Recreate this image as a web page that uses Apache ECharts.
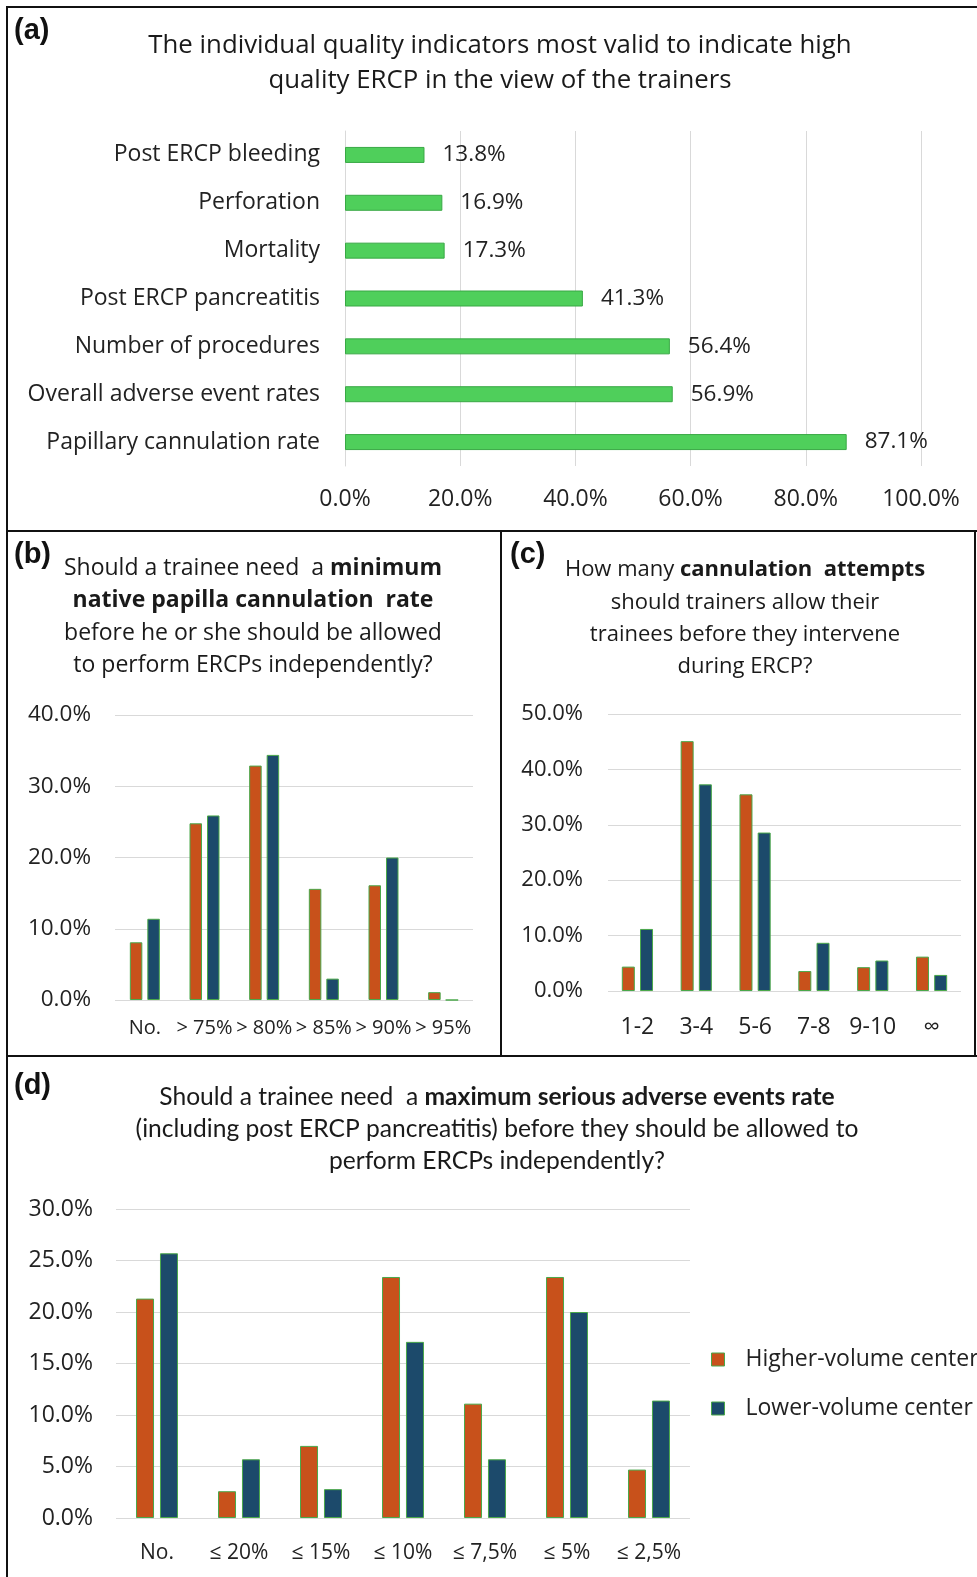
<!DOCTYPE html>
<html>
<head>
<meta charset="utf-8">
<script src="https://cdn.jsdelivr.net/npm/echarts@6/dist/echarts.min.js"></script>
<style>
    html, body { margin: 0; padding: 0; background: #fff; }
    #main { width: 977px; height: 1577px; }
</style>
</head>
<body>
<div id="main"></div>
<script>
// (a) quality indicators
var indicatorNames = ['Post ERCP bleeding', 'Perforation', 'Mortality', 'Post ERCP pancreatitis',
    'Number of procedures', 'Overall adverse event rates', 'Papillary cannulation rate'];
var indicatorValues = [13.8, 16.9, 17.3, 41.3, 56.4, 56.9, 87.1];

// (b) minimum native papilla cannulation rate
var rateCats = ['No.', '> 75%', '> 80%', '> 85%', '> 90%', '> 95%'];
var rateHigher = [8.1, 24.8, 32.9, 15.6, 16.1, 1.1];
var rateLower = [11.4, 25.9, 34.4, 3.0, 20.0, 0];

// (c) cannulation attempts
var attemptCats = ['1-2', '3-4', '5-6', '7-8', '9-10', '\u221e'];
var attemptHigher = [4.4, 45.1, 35.5, 3.6, 4.3, 6.2];
var attemptLower = [11.2, 37.3, 28.6, 8.7, 5.5, 2.9];

// (d) maximum serious adverse events rate
var adverseCats = ['No.', '\u2264 20%', '\u2264 15%', '\u2264 10%', '\u2264 7,5%', '\u2264 5%', '\u2264 2,5%'];
var adverseHigher = [21.3, 2.6, 7.0, 23.4, 11.1, 23.4, 4.7];
var adverseLower = [25.7, 5.7, 2.8, 17.1, 5.7, 20.0, 11.4];

var seriesNames = ['Higher-volume center', 'Lower-volume center'];

var FONT = '"Open Sans", sans-serif';
var TITLE_FONT = 'Lato, sans-serif';
var orange = '#c8511b';
var blue = '#1c4a6b';
var barBorder = '#4aa84a';
var gridColor = '#d9d9d9';

function pct(v) {
    return v.toFixed(1) + '%';
}

function valueAxis(gridIndex, max, interval, margin, size) {
    return {
        type: 'value', gridIndex: gridIndex, min: 0, max: max, interval: interval,
        axisLine: { show: false }, axisTick: { show: false },
        splitLine: { lineStyle: { color: gridColor, width: 1 } },
        axisLabel: { formatter: pct, color: '#222', fontFamily: FONT, fontSize: size, margin: margin }
    };
}

function catAxis(gridIndex, data, fontSize, margin) {
    return {
        type: 'category', gridIndex: gridIndex, data: data,
        axisLine: { show: false }, axisTick: { show: false },
        axisLabel: { color: '#222', fontFamily: FONT, fontSize: fontSize, margin: margin, interval: 0 }
    };
}

function barSeries(name, color, data, idx, width, gap) {
    return {
        name: name, type: 'bar', xAxisIndex: idx, yAxisIndex: idx,
        data: data, barWidth: width, barGap: gap,
        itemStyle: { color: color, borderColor: barBorder, borderWidth: 1 }
    };
}

// one line of panel title, parts in {b|..} are bold
function titleLine(x, y, text, size, family) {
    return {
        type: 'text', x: x, y: y,
        style: {
            text: text, fill: '#1a1a1a', font: size + 'px ' + family,
            align: 'center', verticalAlign: 'middle',
            rich: { b: { fontWeight: 'bold', fontSize: size, fontFamily: family, fill: '#1a1a1a' } }
        }
    };
}

function panelTag(x, y, text) {
    return {
        type: 'text', x: x, y: y,
        style: { text: text, fill: '#111', font: 'bold 29px "Liberation Sans", Arial, sans-serif', verticalAlign: 'middle' }
    };
}

function rule(x1, y1, x2, y2) {
    return { type: 'line', shape: { x1: x1, y1: y1, x2: x2, y2: y2 }, style: { stroke: '#111', lineWidth: 2 } };
}

var myChart = echarts.init(document.getElementById('main'), null, { renderer: 'canvas' });

var option = {
    backgroundColor: '#fff',
    animation: false,
    legend: {
        data: seriesNames, orient: 'vertical', left: 706, top: 1343,
        itemWidth: 13, itemHeight: 13, itemGap: 26, icon: 'rect',
        itemStyle: { borderColor: barBorder, borderWidth: 1 },
        textStyle: { color: '#222', fontFamily: FONT, fontSize: 23, padding: [0, 0, 0, 16] }
    },
    grid: [
        { left: 345, top: 131, width: 576, height: 335 },
        { left: 115, top: 715, width: 358, height: 285 },
        { left: 608, top: 714, width: 353, height: 277 },
        { left: 116, top: 1209, width: 574, height: 309 }
    ],
    xAxis: [
        {
            type: 'value', gridIndex: 0, min: 0, max: 100, interval: 20,
            axisLine: { show: false }, axisTick: { show: false },
            splitLine: { lineStyle: { color: gridColor, width: 1 } },
            axisLabel: { formatter: pct, color: '#222', fontFamily: FONT, fontSize: 23, margin: 22 }
        },
        catAxis(1, rateCats, 20, 18),
        catAxis(2, attemptCats, 23, 25),
        catAxis(3, adverseCats, 21, 25)
    ],
    yAxis: [
        {
            type: 'category', gridIndex: 0, data: indicatorNames, inverse: true,
            axisLine: { lineStyle: { color: gridColor } }, axisTick: { show: false },
            axisLabel: { color: '#222', fontFamily: FONT, fontSize: 23, margin: 25 }
        },
        valueAxis(1, 40, 10, 24, 22.5),
        valueAxis(2, 50, 10, 25, 22),
        valueAxis(3, 30, 5, 23, 23)
    ],
    series: [
        {
            name: 'Indicators', type: 'bar', xAxisIndex: 0, yAxisIndex: 0,
            data: indicatorValues, barWidth: 16,
            itemStyle: { color: '#4fcf5b', borderColor: '#39a845', borderWidth: 1 },
            label: {
                show: true, position: 'right', distance: 18, formatter: function (p) { return pct(p.value); },
                color: '#222', fontFamily: FONT, fontSize: 22.5
            }
        },
        barSeries(seriesNames[0], orange, rateHigher, 1, 12.5, '40%'),
        barSeries(seriesNames[1], blue, rateLower, 1, 12.5, '40%'),
        barSeries(seriesNames[0], orange, attemptHigher, 2, 13, '40%'),
        barSeries(seriesNames[1], blue, attemptLower, 2, 13, '40%'),
        barSeries(seriesNames[0], orange, adverseHigher, 3, 18, '33%'),
        barSeries(seriesNames[1], blue, adverseLower, 3, 18, '33%')
    ],
    graphic: [
        rule(6, 7, 977, 7),
        rule(7, 6, 7, 1577),
        rule(6, 531, 977, 531),
        rule(501, 531, 501, 1056),
        rule(975, 531, 975, 1056),
        rule(6, 1056, 977, 1056),

        panelTag(14, 31, '(a)'),
        panelTag(14, 555, '(b)'),
        panelTag(510, 555, '(c)'),
        panelTag(14, 1086, '(d)'),

        titleLine(500, 46, 'The individual quality indicators most valid to indicate high', 25.8, FONT),
        titleLine(500, 81, 'quality ERCP in the view of the trainers', 25.8, FONT),

        titleLine(253, 568, 'Should a trainee need  a {b|minimum}', 23, FONT),
        titleLine(253, 600, '{b|native papilla cannulation  rate}', 23, FONT),
        titleLine(253, 633, 'before he or she should be allowed', 23, FONT),
        titleLine(253, 665, 'to perform ERCPs independently?', 23, FONT),

        titleLine(745, 570, 'How many {b|cannulation  attempts}', 22, FONT),
        titleLine(745, 603, 'should trainers allow their', 22, FONT),
        titleLine(745, 635, 'trainees before they intervene', 22, FONT),
        titleLine(745, 667, 'during ERCP?', 22, FONT),

        titleLine(497, 1097, 'Should a trainee need  a {b|maximum serious adverse events rate}', 24.6, TITLE_FONT),
        titleLine(497, 1129, '(including post ERCP pancreatitis) before they should be allowed to', 24.6, TITLE_FONT),
        titleLine(497, 1161, 'perform ERCPs independently?', 24.6, TITLE_FONT)
    ]
};

myChart.setOption(option, true);
window.onresize = myChart.resize;
</script>
</body>
</html>
